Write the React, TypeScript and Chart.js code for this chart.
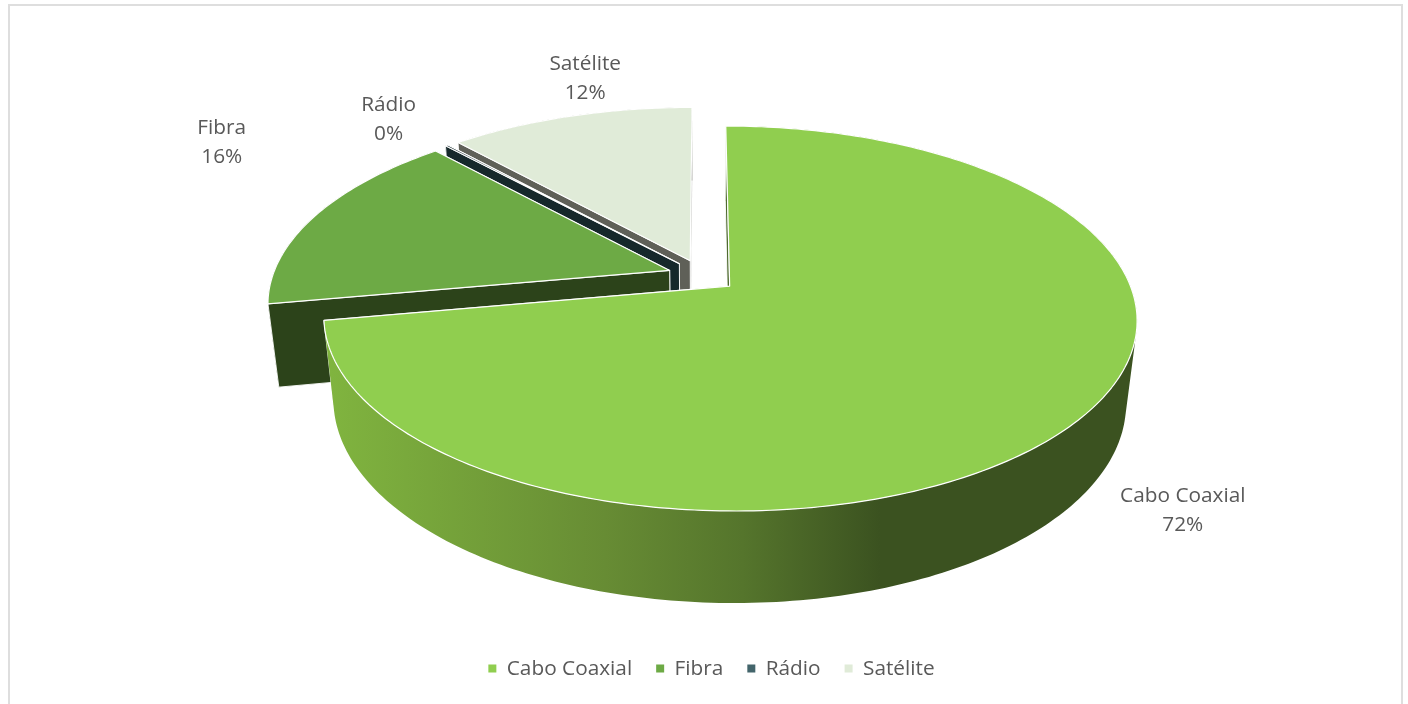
import React, { useEffect, useRef } from "react";
import { Chart, registerables } from "chart.js";

Chart.register(...registerables);

const categories = ["Cabo Coaxial", "Fibra", "Rádio", "Satélite"];
const shares = [72.15, 16.05, 0.13, 11.67];

const topColors = ["#90CE4F", "#6DAA45", "#16282B", "#E0EBD8"];
const legendColors = ["#90CE4F", "#6DAA45", "#43656B", "#E0EBD8"];
const wallColors = ["#4F6B30", "#2C431A", "#16282B", "#5F6058"];
const labelNudges = [
  [105, 90],
  [-94, -73],
  [-58, -26],
  [15, -38],
];

const FONT = '"Open Sans", "Noto Sans", sans-serif';
const TEXT = "#595959";
// View: centre, plane scale, perspective, depth
const CX = 702.6, CY = 275.6, RX = 397, RY = 183.5, K = 0.167, M = 0.025, T = 84, EXPLODE = 0.088;

function project(u: number, v: number, z: number): [number, number] {
  const w = 1 - K * v + M * z;
  return [CX + (RX * u) / w, CY + (RY * v + T * z) / w];
}

function trace(ctx: CanvasRenderingContext2D, pts: [number, number][]) {
  ctx.moveTo(pts[0][0], pts[0][1]);
  for (let i = 1; i < pts.length; i++) ctx.lineTo(pts[i][0], pts[i][1]);
  ctx.closePath();
}

function area(p: [number, number][]) {
  let s = 0;
  for (let i = 0; i < p.length; i++) {
    const q = p[(i + 1) % p.length];
    s += p[i][0] * q[1] - q[0] * p[i][1];
  }
  return s;
}

const pie3d = {
  id: "pie3d",
  beforeDraw(chart: any) {
    const ctx = chart.ctx as CanvasRenderingContext2D;
    ctx.save();
    ctx.fillStyle = "#ffffff";
    ctx.fillRect(0, 0, chart.width, chart.height);
    ctx.strokeStyle = "#DEDEDE";
    ctx.lineWidth = 2;
    ctx.strokeRect(9, 5, 1393, 760);
    ctx.restore();
  },
  beforeDatasetsDraw(chart: any) {
    const ctx = chart.ctx as CanvasRenderingContext2D;
    const arcs = chart.getDatasetMeta(0).data;
    ctx.save();
    ctx.lineJoin = "round";
    for (let i = arcs.length - 1; i >= 0; i--) {
      const start = arcs[i].startAngle as number;
      const end = arcs[i].endAngle as number;
      const mid = (start + end) / 2;
      const ou = Math.cos(mid) * EXPLODE;
      const ov = Math.sin(mid) * EXPLODE;
      const at = (a: number, z: number) => project(ou + Math.cos(a), ov + Math.sin(a), z);
      const apex = (z: number) => project(ou, ov, z);
      const steps = Math.max(2, Math.ceil(((end - start) / (Math.PI * 2)) * 360));
      const ring = (z: number) => {
        const out: [number, number][] = [];
        for (let s = 0; s <= steps; s++) out.push(at(start + ((end - start) * s) / steps, z));
        return out;
      };
      const radial = (a: number) => {
        ctx.beginPath();
        trace(ctx, [apex(0), at(a, 0), at(a, 1), apex(1)]);
        ctx.fillStyle = wallColors[i];
        ctx.fill();
        ctx.strokeStyle = "#ffffff";
        ctx.lineWidth = 0.9;
        ctx.stroke();
      };
      radial(end);
      // Outer wall
      const upper = ring(0);
      const lower = ring(1);
      ctx.beginPath();
      for (let s = 0; s < steps; s++) {
        const q: [number, number][] = [upper[s], upper[s + 1], lower[s + 1], lower[s]];
        trace(ctx, area(q) < 0 ? q.reverse() : q);
      }
      if (i === 0) {
        const g = ctx.createLinearGradient(330, 0, 880, 0);
        g.addColorStop(0, "#80B43F");
        g.addColorStop(0.5, "#678C34");
        g.addColorStop(0.75, "#55752C");
        g.addColorStop(1, "#3B5220");
        ctx.fillStyle = g;
      } else {
        ctx.fillStyle = wallColors[i];
      }
      ctx.fill();
      radial(start);
      // Top face
      ctx.beginPath();
      trace(ctx, [apex(0), ...upper]);
      ctx.fillStyle = topColors[i];
      ctx.fill();
      ctx.strokeStyle = "#ffffff";
      ctx.lineWidth = 1.2;
      ctx.stroke();
    }
    // Labels
    const total = shares.reduce((a, b) => a + b, 0);
    ctx.font = `20.8px ${FONT}`;
    ctx.fillStyle = TEXT;
    ctx.textAlign = "center";
    ctx.textBaseline = "middle";
    arcs.forEach((el: any, i: number) => {
      const mid = (el.startAngle + el.endAngle) / 2;
      const f = 1 + EXPLODE;
      const [x, y] = project(Math.cos(mid) * f, Math.sin(mid) * f, 0);
      const lx = x + labelNudges[i][0];
      const ly = y + labelNudges[i][1];
      ctx.fillText(categories[i], lx, ly - 14.5);
      ctx.fillText(`${Math.round((shares[i] / total) * 100)}%`, lx, ly + 14.5);
    });
    ctx.restore();
    return false;
  },
};

export default function App() {
  const ref = useRef<HTMLCanvasElement>(null);
  useEffect(() => {
    const chart = new Chart(ref.current!, {
      type: "pie",
      data: {
        labels: categories,
        datasets: [{ data: shares, backgroundColor: legendColors, borderWidth: 0 }],
      },
      options: {
        animation: false,
        responsive: false,
        layout: { padding: { bottom: 15, left: 15 } },
        plugins: {
          tooltip: { enabled: false },
          legend: {
            position: "bottom",
            labels: {
              boxWidth: 8,
              boxHeight: 8,
              padding: 24,
              color: TEXT,
              font: { family: FONT, size: 20.8 },
            },
          },
        },
      },
      plugins: [pie3d],
    } as any);
    return () => chart.destroy();
  }, []);
  return (
    <div style={{ position: "fixed", left: 0, top: 0, width: 1408, height: 704 }}>
      <canvas ref={ref} width={1408} height={704} style={{ display: "block" }} />
    </div>
  );
}
